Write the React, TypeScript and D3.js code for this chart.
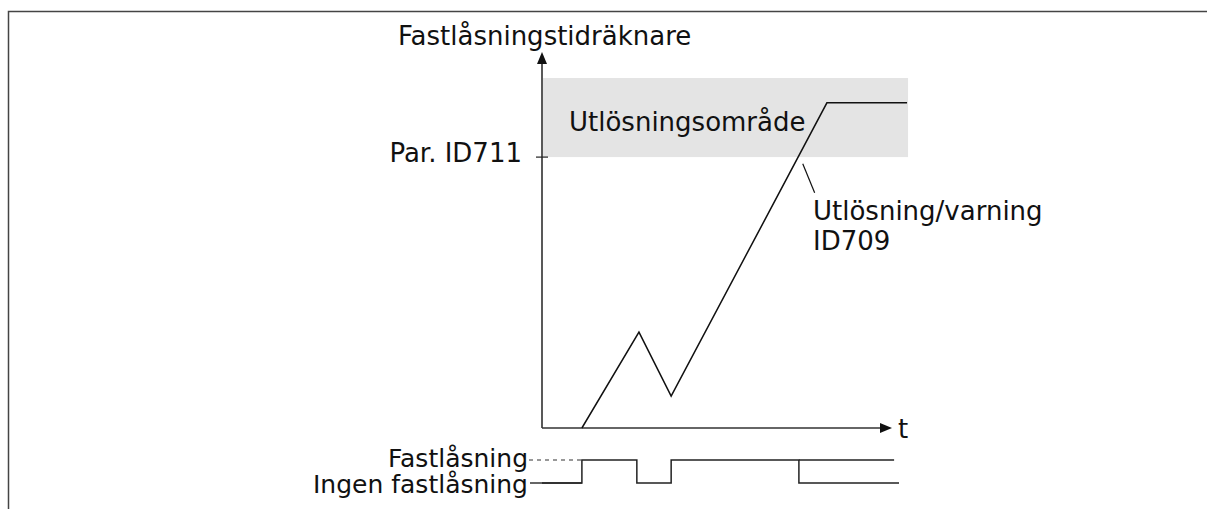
import React from "react";
import * as d3 from "d3";

// counter curve (time, counter value)
const counterTimes = [11.4, 27.7, 36.9, 81.4, 104.3];
const counterValues = [0, 27.4, 9.1, 92.9, 92.9];

// stall signal edges (time, state 1 = stall, 0 = no stall)
const stallTimes = [0, 11.4, 11.4, 27.1, 27.1, 36.9, 36.9, 73.4, 73.4, 102];
const stallStates = [0, 0, 1, 1, 0, 0, 1, 1, 0, 0];

const limitValue = 77.4;
const tripZone = [77.4, 100];

const yTitle = "Fastlåsningstidräknare";
const limitLabel = "Par. ID711";
const zoneLabel = "Utlösningsområde";
const tripLabel = ["Utlösning/varning", "ID709"];
const stallLabels = ["Fastlåsning", "Ingen fastlåsning"];

const W = 1207;
const H = 509;
const font = "'DejaVu Sans', Verdana, sans-serif";

export default function App() {
  const x = d3.scaleLinear().domain([0, 100]).range([542, 892]);
  const y = d3.scaleLinear().domain([0, 100]).range([428, 78]);
  const s = d3.scaleLinear().domain([0, 1]).range([483, 460]);

  const line = d3
    .line<number>()
    .x((d, i) => x(counterTimes[i]))
    .y((d) => y(d));

  const stallLine = d3
    .line<number>()
    .x((d, i) => x(stallTimes[i]))
    .y((d) => s(d));

  const axisTop = y(107.4);
  const axisEnd = x(100);

  return (
    <svg
      width={W}
      height={H}
      style={{ position: "absolute", left: 0, top: 0, fontFamily: font }}
    >
      <rect width={W} height={H} fill="#fff" />
      {/* frame */}
      <path d={`M8.5,${H} V11.5 H${W}`} fill="none" stroke="#444" strokeWidth={1.5} />

      {/* trip zone band */}
      <rect
        x={x(0) + 1}
        y={y(tripZone[1])}
        width={x(104.3) - x(0)}
        height={y(tripZone[0]) - y(tripZone[1])}
        fill="#e4e4e4"
      />

      {/* axes */}
      <line x1={x(0)} x2={x(0)} y1={y(0)} y2={axisTop + 8} stroke="#222" strokeWidth={1.5} />
      <path d={`M${x(0)},${axisTop} l-5,12 h10 z`} fill="#111" />
      <line x1={x(0)} x2={axisEnd - 10} y1={y(0)} y2={y(0)} stroke="#333" strokeWidth={1.5} />
      <path d={`M${axisEnd},${y(0)} l-12,-5 v10 z`} fill="#111" />
      <line x1={x(0) - 6} x2={x(0) + 6} y1={y(limitValue)} y2={y(limitValue)} stroke="#222" strokeWidth={1.2} />

      {/* counter curve */}
      <path d={line(counterValues) ?? ""} fill="none" stroke="#111" strokeWidth={1.5} />

      {/* callout */}
      <line x1={x(74.5)} x2={x(77.9)} y1={y(75.5)} y2={y(67.2)} stroke="#111" strokeWidth={1.2} />

      {/* stall signal */}
      <line x1={529} x2={x(11.4)} y1={s(1)} y2={s(1)} stroke="#333" strokeWidth={1.2} strokeDasharray="4,4" />
      <line x1={530} x2={x(11.4)} y1={s(0)} y2={s(0)} stroke="#333" strokeWidth={1.5} />
      <path d={stallLine(stallStates) ?? ""} fill="none" stroke="#222" strokeWidth={1.5} />
      <line x1={x(73.4)} x2={x(100.6)} y1={s(1)} y2={s(1)} stroke="#222" strokeWidth={1.5} />

      {/* texts */}
      <g fontSize={26} fill="#111">
        <text x={398} y={45}>{yTitle}</text>
        <text x={522} y={162} textAnchor="end">{limitLabel}</text>
        <text x={569} y={131}>{zoneLabel}</text>
        <text x={813} y={220}>{tripLabel[0]}</text>
        <text x={813} y={250}>{tripLabel[1]}</text>
        <text x={898} y={438}>t</text>
        <text x={528} y={467} textAnchor="end" fontSize={25}>{stallLabels[0]}</text>
        <text x={528} y={493} textAnchor="end" fontSize={25}>{stallLabels[1]}</text>
      </g>
    </svg>
  );
}
